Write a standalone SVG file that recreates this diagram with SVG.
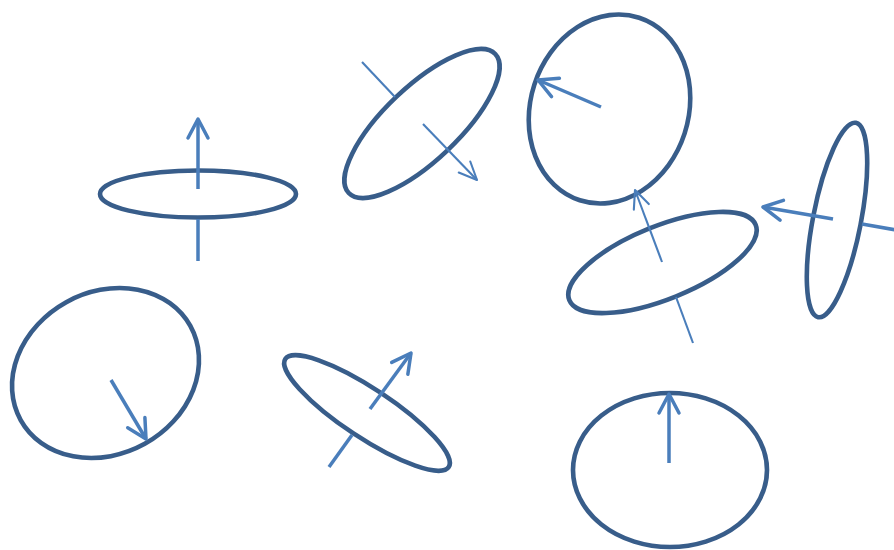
<svg xmlns="http://www.w3.org/2000/svg" width="894" height="550" viewBox="0 0 894 550">
<style>
.ring{fill:none;stroke:#385d8a;stroke-width:4.6}
.ax{fill:none;stroke:#4a7ebb;stroke-width:3.5}
.axt{fill:none;stroke:#4a7ebb;stroke-width:2.1}
</style>
<defs>
<marker id="hd" markerUnits="userSpaceOnUse" orient="auto" markerWidth="30" markerHeight="30" viewBox="-25 -15 30 30" refX="0" refY="0" overflow="visible">
<path d="M-19,-10 L0,0 L-19,10" fill="none" stroke="#4a7ebb" stroke-width="3.5" stroke-linejoin="round" stroke-linecap="round"/>
</marker>
<marker id="hdt" markerUnits="userSpaceOnUse" orient="auto" markerWidth="30" markerHeight="30" viewBox="-25 -15 30 30" refX="0" refY="0" overflow="visible">
<path d="M-18,-8 L0,0 L-18,8" fill="none" stroke="#4a7ebb" stroke-width="2.1" stroke-linejoin="round" stroke-linecap="round"/>
</marker>
</defs>
<rect width="894" height="550" fill="#ffffff"/>
<g id="fig1">
<ellipse class="ring" cx="198" cy="194" rx="98" ry="23.5"/>
<line class="ax" x1="198" y1="189" x2="198" y2="119" marker-end="url(#hd)"/>
<line class="ax" x1="198" y1="219" x2="198" y2="261"/>
</g>
<g id="fig2">
<ellipse class="ring" cx="0" cy="0" rx="101" ry="37" transform="translate(422,123.5) rotate(-43.5)"/>
<line class="axt" x1="362" y1="62" x2="395" y2="97"/>
<line class="axt" x1="423" y1="124" x2="477" y2="180" marker-end="url(#hdt)"/>
</g>
<g id="fig3">
<ellipse class="ring" cx="0" cy="0" rx="79" ry="96" transform="translate(609.5,109) rotate(18)"/>
<line class="ax" x1="601" y1="107" x2="538" y2="80" marker-end="url(#hd)"/>
</g>
<g id="fig4">
<ellipse class="ring" cx="0" cy="0" rx="100.5" ry="36.5" transform="translate(662.5,262.5) rotate(-22)"/>
<line class="axt" x1="693" y1="343" x2="676" y2="297"/>
<line class="axt" x1="662" y1="262" x2="635" y2="190" marker-end="url(#hdt)"/>
</g>
<g id="fig5">
<ellipse class="ring" cx="0" cy="0" rx="24" ry="99" transform="translate(837,220) rotate(11)"/>
<line class="ax" x1="833" y1="219" x2="763" y2="207" marker-end="url(#hd)"/>
<line class="ax" x1="862" y1="224" x2="896" y2="230"/>
</g>
<g id="fig6">
<ellipse class="ring" cx="0" cy="0" rx="97" ry="81" transform="translate(105.5,373) rotate(-29)"/>
<line class="ax" x1="111" y1="380" x2="146" y2="439" marker-end="url(#hd)"/>
</g>
<g id="fig7">
<ellipse class="ring" cx="0" cy="0" rx="98" ry="24.5" transform="translate(367,413) rotate(33.5)"/>
<line class="ax" x1="329" y1="467" x2="352" y2="435"/>
<line class="ax" x1="370" y1="409" x2="411" y2="353" marker-end="url(#hd)"/>
</g>
<g id="fig8">
<ellipse class="ring" cx="670" cy="470" rx="97" ry="77"/>
<line class="ax" x1="669" y1="463" x2="669" y2="394" marker-end="url(#hd)"/>
</g>
</svg>
